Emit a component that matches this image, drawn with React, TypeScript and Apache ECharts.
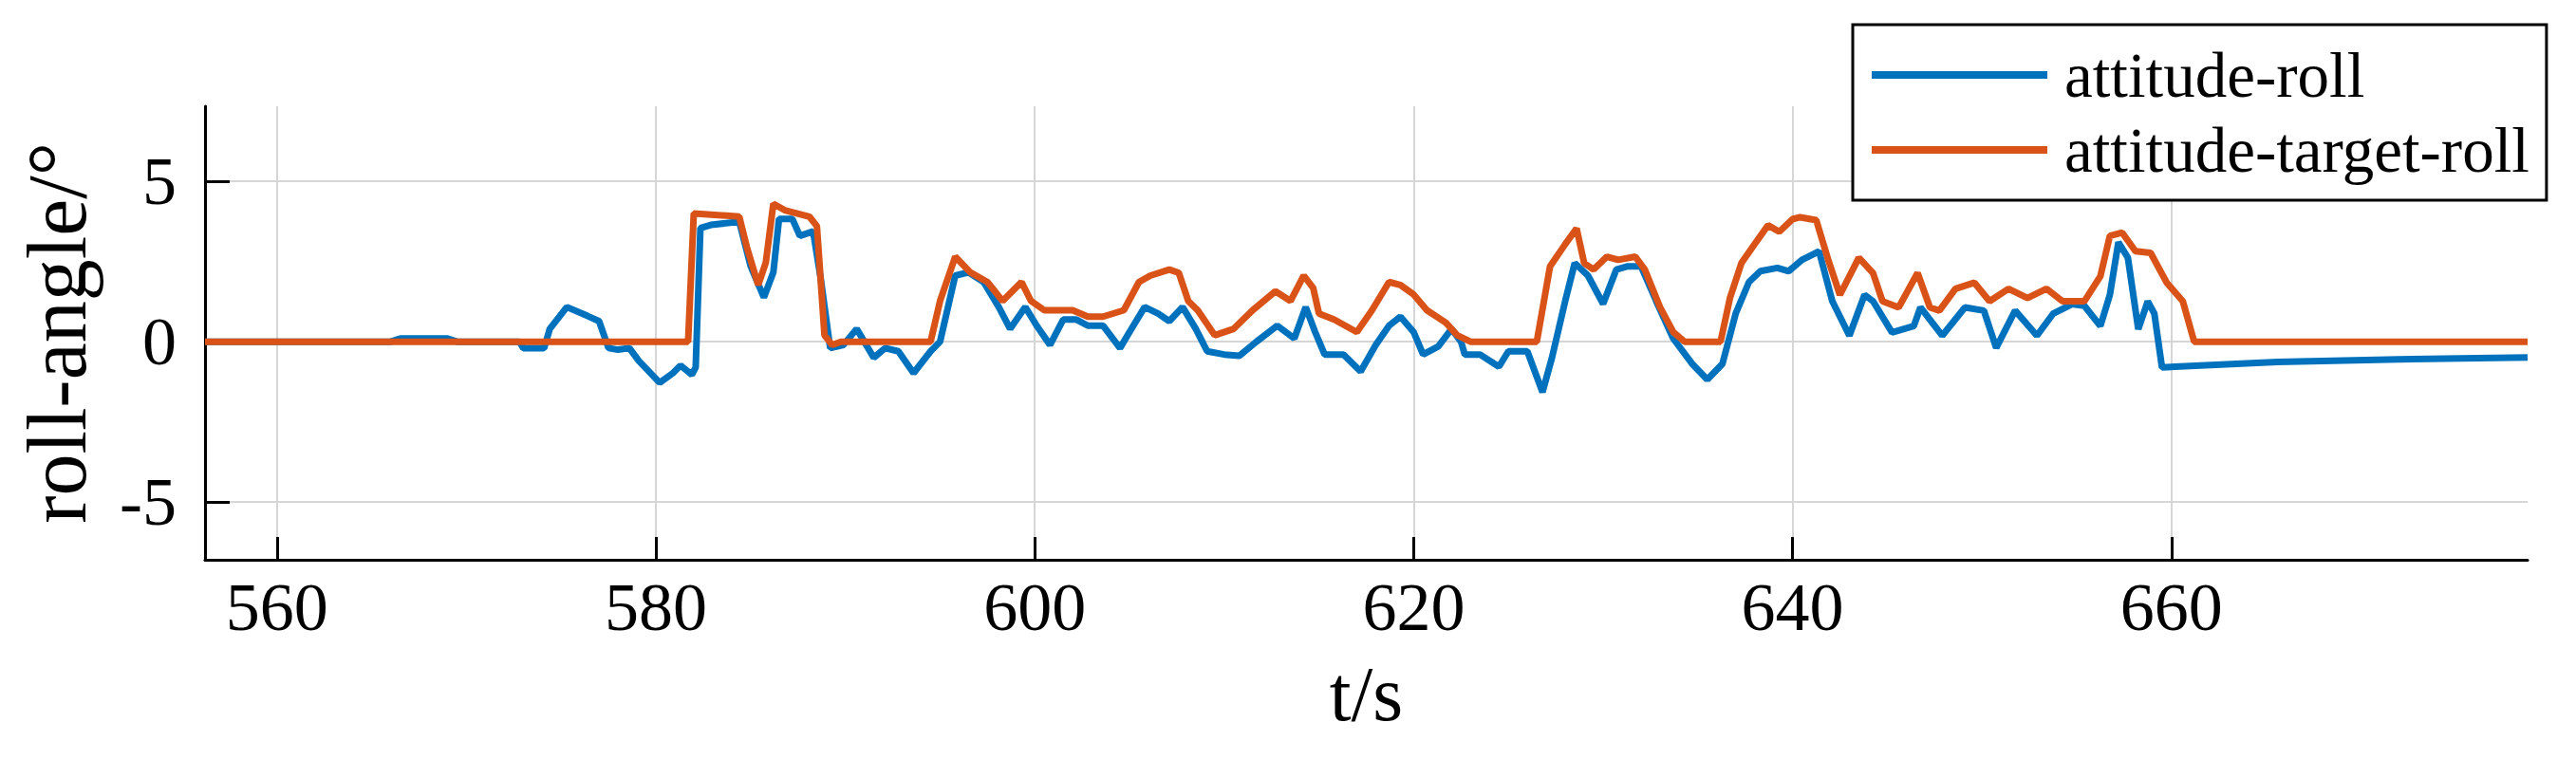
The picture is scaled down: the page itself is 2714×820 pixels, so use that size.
import React, { useEffect, useRef } from "react";
import * as echarts from "echarts";

const rollT = [
  556.2, 566.0, 566.5, 569.0, 569.5, 572.8, 573.0, 574.1, 574.4, 575.3, 576.4, 577.0, 577.5, 578.0, 578.6,
  579.1, 580.2, 580.9, 581.3, 581.9, 582.1, 582.35, 582.9, 584.4, 585.0, 585.7, 586.2, 586.5, 587.2, 587.6,
  588.3, 588.7, 589.2, 589.9, 590.6, 591.5, 592.1, 592.8, 593.6, 594.5, 595.0, 595.8, 596.5, 597.3, 598.1,
  598.7, 599.5, 600.1, 600.8, 601.5, 602.2, 602.8, 603.6, 604.5, 605.0, 605.8, 606.5, 607.1, 607.8, 608.5,
  609.1, 610.0, 610.8, 611.7, 612.8, 613.7, 614.3, 614.8, 615.3, 616.3, 617.2, 618.0, 618.7, 619.3, 620.0,
  620.5, 621.3, 622.0, 622.5, 622.7, 623.5, 624.5, 625.0, 626.0, 626.8, 627.3, 628.0, 628.5, 629.2, 630.0,
  630.7, 631.3, 632.0, 632.8, 633.7, 634.7, 635.5, 636.3, 637.0, 637.7, 638.3, 639.2, 639.8, 640.5, 641.4,
  642.1, 643.0, 643.8, 644.25, 645.25, 646.4, 646.75, 647.9, 649.1, 650.1, 650.75, 651.75, 652.9, 653.75, 654.75,
  655.4, 656.25, 656.75, 657.2, 657.7, 658.25, 658.75, 659.1, 659.5, 665.6, 672.0, 678.8,
];
const rollV = [
  0, 0, 0.1, 0.1, 0, 0, -0.2, -0.2, 0.4, 1.08, 0.8, 0.64, -0.2, -0.25, -0.2,
  -0.6, -1.28, -0.98, -0.74, -1.03, -0.8, 3.54, 3.64, 3.74, 2.36, 1.38, 2.16, 3.83, 3.83, 3.3,
  3.44, 1.97, -0.2, -0.1, 0.4, -0.5, -0.2, -0.3, -0.98, -0.3, 0, 2.06, 2.16, 1.86, 1.08,
  0.4, 1.08, 0.5, -0.1, 0.69, 0.69, 0.5, 0.5, -0.2, 0.3, 1.08, 0.88, 0.64, 1.08, 0.4,
  -0.3, -0.4, -0.44, 0, 0.5, 0.1, 1.08, 0.3, -0.4, -0.4, -0.93, -0.1, 0.5, 0.78, 0.3,
  -0.4, -0.15, 0.4, 0, -0.4, -0.4, -0.78, -0.3, -0.3, -1.57, -0.5, 1.27, 2.45, 2.06, 1.18,
  2.25, 2.35, 2.35, 1.27, 0.1, -0.69, -1.18, -0.69, 0.88, 1.86, 2.2, 2.3, 2.2, 2.55, 2.82,
  1.26, 0.19, 1.46, 1.26, 0.29, 0.49, 1.07, 0.19, 1.07, 0.97, -0.19, 0.97, 0.19, 0.87, 1.17,
  1.12, 0.49, 1.46, 3.1, 2.62, 0.39, 1.26, 0.87, -0.8, -0.63, -0.55, -0.49,
];

const targetT = [
  556.2, 581.7, 582.0, 584.4, 584.8, 585.4, 585.8, 586.2, 586.8, 588.1, 588.5, 588.9, 589.3, 589.8, 594.5,
  595.0, 595.8, 596.6, 597.5, 598.3, 599.3, 599.8, 600.5, 602.0, 602.8, 603.6, 604.7, 605.5, 606.1, 607.1,
  607.6, 608.1, 608.6, 609.5, 610.5, 611.5, 612.7, 613.5, 614.2, 614.7, 615.0, 615.8, 617.0, 617.8, 618.7,
  619.3, 620.0, 620.7, 621.7, 622.3, 623.0, 626.5, 627.2, 628.0, 628.6, 629.0, 629.5, 630.2, 630.8, 631.7,
  632.2, 633.0, 633.7, 634.3, 636.2, 636.7, 637.3, 638.0, 638.7, 639.3, 640.0, 640.4, 641.25, 641.9, 642.5,
  643.5, 644.25, 644.75, 645.6, 646.6, 647.25, 647.75, 648.6, 649.6, 650.4, 651.4, 652.4, 653.4, 654.25, 655.4,
  656.25, 656.75, 657.4, 658.1, 658.9, 659.75, 660.6, 661.2, 678.8,
];
const targetV = [
  0, 0, 4.0, 3.9, 2.95, 1.77, 2.46, 4.3, 4.1, 3.9, 3.6, 0.2, -0.1, 0, 0,
  1.27, 2.65, 2.16, 1.86, 1.27, 1.86, 1.27, 0.98, 0.98, 0.78, 0.78, 0.98, 1.86, 2.06, 2.25,
  2.15, 1.27, 0.98, 0.2, 0.4, 0.98, 1.57, 1.27, 2.06, 1.67, 0.88, 0.69, 0.3, 0.98, 1.86,
  1.77, 1.47, 0.98, 0.59, 0.2, 0, 0, 2.35, 3.04, 3.53, 2.45, 2.25, 2.65, 2.55, 2.65,
  2.25, 1.08, 0.3, 0, 0, 1.37, 2.45, 3.04, 3.63, 3.43, 3.82, 3.88, 3.79, 2.52, 1.46,
  2.62, 2.14, 1.26, 1.07, 2.14, 1.07, 0.97, 1.65, 1.84, 1.26, 1.65, 1.36, 1.65, 1.26, 1.26,
  2.04, 3.3, 3.4, 2.82, 2.77, 1.84, 1.26, 0, 0,
];

const xTicks = [560, 580, 600, 620, 640, 660];
const yTicks = [-5, 0, 5];
const seriesNames = ["attitude-roll", "attitude-target-roll"];
const seriesColors = ["#0072BD", "#D95319"];

export default function App() {
  const ref = useRef<HTMLDivElement>(null);
  useEffect(() => {
    document.body.style.margin = "0";
    const chart = echarts.init(ref.current!, null, { renderer: "svg" });
    const font = "Liberation Serif";
    const axisCommon = {
      type: "value",
      axisLine: { show: true, onZero: false, lineStyle: { color: "#000", width: 3 } },
      splitLine: { show: true, lineStyle: { color: "#d6d6d6", width: 2 } },
    };
    chart.setOption({
      animation: false,
      backgroundColor: "#ffffff",
      textStyle: { fontFamily: font },
      grid: { left: 216, right: 51, top: 112, bottom: 230, containLabel: false, outerBoundsMode: "none" },
      legend: {
        left: 1952,
        top: 26,
        orient: "vertical",
        icon: "rect",
        itemWidth: 185,
        itemHeight: 8,
        itemGap: 9,
        padding: [18, 18, 18, 20],
        borderColor: "#000",
        borderWidth: 3,
        backgroundColor: "#fff",
        textStyle: { fontFamily: font, fontSize: 67, color: "#000", lineHeight: 70, padding: [0, 0, 0, 13] },
        data: seriesNames,
      },
      xAxis: {
        ...axisCommon,
        min: 556.2,
        max: 678.8,
        axisTick: { show: true, inside: true, length: 24, customValues: xTicks, lineStyle: { color: "#000", width: 3 } },
        axisLabel: { customValues: xTicks, margin: 14, fontFamily: font, fontSize: 72, color: "#000" },
        name: "t/s",
        nameLocation: "middle",
        nameGap: 100,
        nameTextStyle: { fontFamily: font, fontSize: 82, color: "#000" },
      },
      yAxis: {
        ...axisCommon,
        min: -6.8,
        max: 7.34,
        axisTick: { show: true, inside: true, length: 26, customValues: yTicks, lineStyle: { color: "#000", width: 3 } },
        axisLabel: { customValues: yTicks, margin: 30, fontFamily: font, fontSize: 72, color: "#000" },
        name: "roll-angle/°",
        nameLocation: "middle",
        nameGap: 112,
        nameTextStyle: { fontFamily: font, fontSize: 88, color: "#000" },
      },
      series: [
        {
          name: seriesNames[0],
          type: "line",
          showSymbol: false,
          color: seriesColors[0],
          lineStyle: { width: 7, color: seriesColors[0] },
          data: rollT.map((t, i) => [t, rollV[i]]),
        },
        {
          name: seriesNames[1],
          type: "line",
          showSymbol: false,
          color: seriesColors[1],
          lineStyle: { width: 7, color: seriesColors[1] },
          data: targetT.map((t, i) => [t, targetV[i]]),
        },
      ],
    });
    return () => chart.dispose();
  }, []);
  return <div ref={ref} style={{ width: 2714, height: 820 }} />;
}
